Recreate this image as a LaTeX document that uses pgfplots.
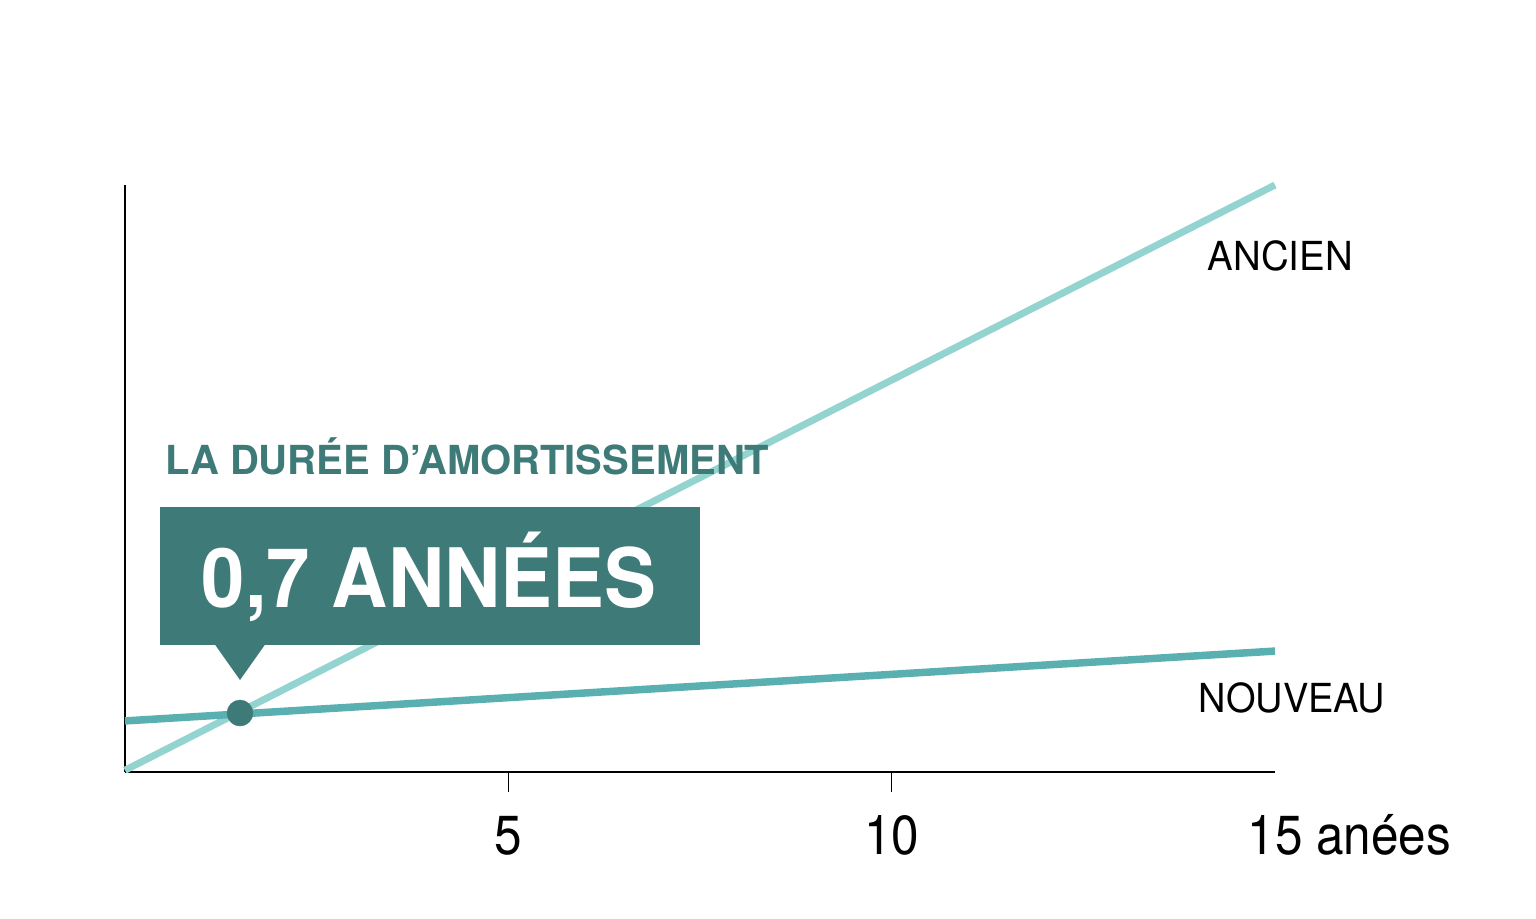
\documentclass[border=0pt]{standalone}
\usepackage{pgfplots}
\pgfplotsset{compat=1.18}
\usepackage{fontspec}
\setmainfont{TeX Gyre Heros}
\definecolor{ancien}{HTML}{94D4D0}
\definecolor{nouveau}{HTML}{5AB0B0}
\definecolor{sombre}{HTML}{3E7A77}
\begin{document}
\begin{tikzpicture}
\useasboundingbox (-125pt,-146pt) rectangle (1411pt,772pt);
\begin{axis}[
  at={(0,0)}, anchor=south west,
  scale only axis,
  width=1150pt, height=587pt,
  xmin=0, xmax=15, ymin=0, ymax=100,
  axis x line=bottom, axis y line=left,
  axis line style={line width=2pt, -},
  xtick={5,10}, xticklabels={\scalebox{0.9}[1]{5},\scalebox{0.9}[1]{10}},
  extra x ticks={15}, extra x tick labels={\scalebox{0.9}[1]{15}\rlap{\scalebox{0.9}[1]{ anées}}},
  extra x tick style={tick style={draw=none}},
  ytick=\empty,
  tick align=outside,
  major tick length=20pt,
  tick style={line width=1.5pt, black},
  xticklabel style={font=\fontsize{55}{60}\selectfont, anchor=base, yshift=-62pt},
  /pgf/number format/assume math mode=true,
  clip=false,
]
% ANCIEN
\addplot[color=ancien, line width=7pt, line cap=butt] coordinates {(0,0.3) (15,100)};
% NOUVEAU
\addplot[color=nouveau, line width=7.5pt] coordinates {(0,8.7) (15,20.6)};
% point d'amortissement
\addplot[only marks, mark=*, mark size=13pt, color=sombre] coordinates {(1.5,10.05)};

\node[anchor=base, font=\fontsize{40}{44}\selectfont] at (axis cs:15.07,85.5) {\scalebox{0.96}[1]{ANCIEN}};
\node[anchor=base, font=\fontsize{40}{44}\selectfont] at (axis cs:15.22,10.2) {\scalebox{0.95}[1]{NOUVEAU}};

\node[anchor=base west, inner sep=0pt, text=sombre, font=\bfseries\fontsize{40}{42}\selectfont] at (axis cs:0.522,50.6) {LA DURÉE D’AMORTISSEMENT};
\fill[sombre] (axis cs:0.4565,21.64) rectangle (axis cs:7.5,45.14);
\fill[sombre] (axis cs:1.174,21.7) -- (axis cs:1.826,21.7) -- (axis cs:1.5,15.67) -- cycle;
\node[anchor=base west, inner sep=0pt, text=white, font=\bfseries\fontsize{82}{90}\selectfont] at (axis cs:1.0,28.1) {\scalebox{0.95}[1]{0,7 ANNÉES}};
\end{axis}
\end{tikzpicture}
\end{document}
